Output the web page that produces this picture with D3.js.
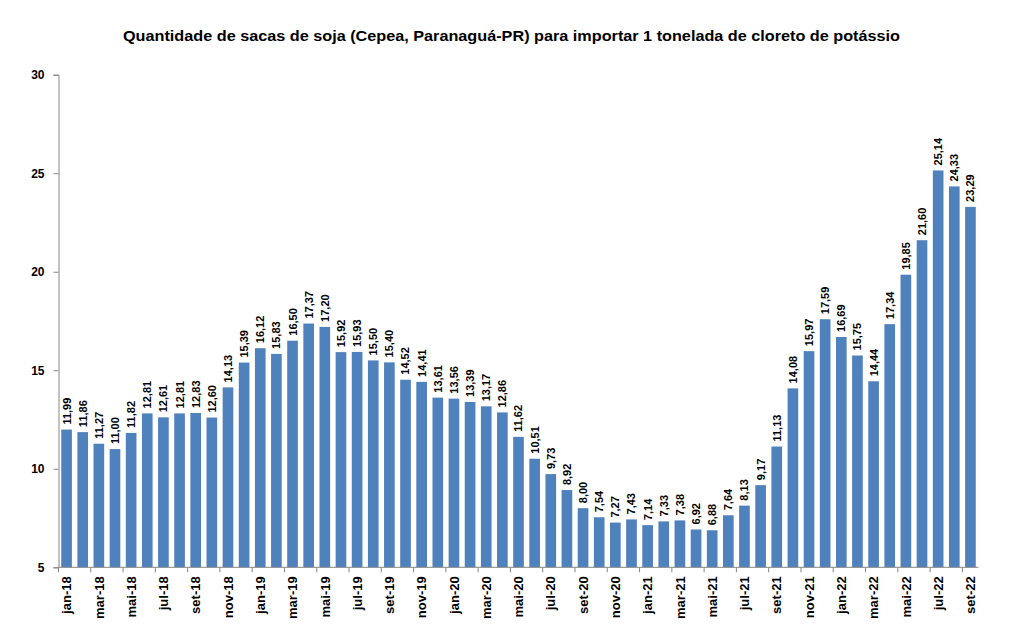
<!DOCTYPE html>
<html>
<head>
<meta charset="utf-8">
<script src="https://cdn.jsdelivr.net/npm/d3@7"></script>
<style>
  body { margin: 0; background: #fff; }
  text { font-family: "Liberation Sans", Arial, sans-serif; font-weight: bold; fill: #000; }
</style>
</head>
<body>
<svg id="chart" width="1013" height="632"></svg>
<script>
// months (jan-18 .. set-22)
var months = ["jan-18","fev-18","mar-18","abr-18","mai-18","jun-18","jul-18","ago-18","set-18","out-18","nov-18","dez-18",
  "jan-19","fev-19","mar-19","abr-19","mai-19","jun-19","jul-19","ago-19","set-19","out-19","nov-19","dez-19",
  "jan-20","fev-20","mar-20","abr-20","mai-20","jun-20","jul-20","ago-20","set-20","out-20","nov-20","dez-20",
  "jan-21","fev-21","mar-21","abr-21","mai-21","jun-21","jul-21","ago-21","set-21","out-21","nov-21","dez-21",
  "jan-22","fev-22","mar-22","abr-22","mai-22","jun-22","jul-22","ago-22","set-22"];

// sacas de soja por tonelada de KCl
var sacas = [11.99,11.86,11.27,11.00,11.82,12.81,12.61,12.81,12.83,12.60,14.13,15.39,
  16.12,15.83,16.50,17.37,17.20,15.92,15.93,15.50,15.40,14.52,14.41,13.61,
  13.56,13.39,13.17,12.86,11.62,10.51,9.73,8.92,8.00,7.54,7.27,7.43,
  7.14,7.33,7.38,6.92,6.88,7.64,8.13,9.17,11.13,14.08,15.97,17.59,
  16.69,15.75,14.44,17.34,19.85,21.60,25.14,24.33,23.29];

var yTicks = [5,10,15,20,25,30];
var titleText = "Quantidade de sacas de soja (Cepea, Paranaguá-PR) para importar 1 tonelada de cloreto de potássio";

(function(){
    var svg = d3.select("#chart");
    var mLeft = 58.5, mRight = 978.5, mTop = 74.7, mBottom = 567.3;
    var barColor = "#4F81BD", axisColor = "#868686";

    var data = months.map(function(m, i){ return {mes: m, v: sacas[i]}; });

    var x = d3.scaleBand()
        .domain(months)
        .range([mLeft, mRight])
        .paddingInner(0.34)
        .paddingOuter(0.17);

    var y = d3.scaleLinear()
        .domain([5, 30])
        .range([mBottom, mTop]);

    var fmt = function(v){ return d3.format(".2f")(v).replace(".", ","); };

    // title
    svg.append("text")
        .attr("x", 511.5)
        .attr("y", 41)
        .attr("text-anchor", "middle")
        .style("font-size", "15px")
        .attr("textLength", 777)
        .attr("lengthAdjust", "spacingAndGlyphs")
        .text(titleText);

    // bars
    svg.selectAll("rect.bar").data(data).enter().append("rect")
        .attr("class", "bar")
        .attr("x", function(d){ return x(d.mes); })
        .attr("width", x.bandwidth())
        .attr("y", function(d){ return y(d.v); })
        .attr("height", function(d){ return mBottom - y(d.v); })
        .style("fill", barColor);

    // value labels
    svg.selectAll("text.val").data(data).enter().append("text")
        .attr("class", "val")
        .attr("transform", function(d){
            return "translate(" + (x(d.mes) + x.bandwidth()/2) + "," + (y(d.v) - 5) + ") rotate(-90)";
        })
        .attr("dy", "0.36em")
        .style("font-size", "11px")
        .text(function(d){ return fmt(d.v); });

    // y axis
    var yAxis = d3.axisLeft(y).tickValues(yTicks).tickSize(5).tickPadding(9);
    var gy = svg.append("g").attr("transform", "translate(" + mLeft + ",0)").call(yAxis);
    gy.select(".domain").attr("stroke", axisColor);
    gy.selectAll(".tick line").attr("stroke", axisColor);
    gy.selectAll(".tick text").style("font-size", "12px").style("font-family", "'Liberation Sans', Arial, sans-serif");

    // x axis
    var step = x.step();
    var gx = svg.append("g").attr("class", "xaxis");
    gx.append("line")
        .attr("x1", mLeft).attr("x2", mRight)
        .attr("y1", mBottom).attr("y2", mBottom)
        .attr("stroke", axisColor);
    var shown = months.filter(function(m, i){ return i % 2 === 0; });
    gx.selectAll("line.tk").data(shown).enter().append("line")
        .attr("class", "tk")
        .attr("x1", function(m){ return x(m) - step * x.paddingInner() / 2; })
        .attr("x2", function(m){ return x(m) - step * x.paddingInner() / 2; })
        .attr("y1", mBottom).attr("y2", mBottom + 5)
        .attr("stroke", axisColor);
    gx.selectAll("text.xl").data(shown).enter().append("text")
        .attr("class", "xl")
        .attr("transform", function(m){
            return "translate(" + (x(m) + x.bandwidth()/2) + "," + (mBottom + 9) + ") rotate(-90)";
        })
        .attr("text-anchor", "end")
        .attr("dy", "0.36em")
        .style("font-size", "13px")
        .text(function(m){ return m; });
})();
</script>
</body>
</html>
